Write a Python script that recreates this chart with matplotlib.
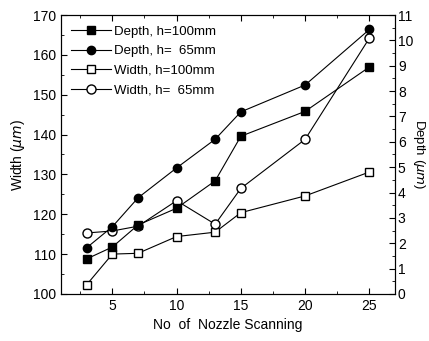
import matplotlib
matplotlib.use('Agg')
import matplotlib.pyplot as plt
from matplotlib.ticker import MultipleLocator

plt.rcParams['font.family'] = ['Liberation Sans', 'DejaVu Sans']

# nozzle scanning counts
nozzle = [3, 5, 7, 10, 13, 15, 20, 25]

# width in um (left axis)
width_100 = [102.3, 110.0, 110.2, 114.4, 115.5, 120.4, 124.6, 130.6]
width_65 = [115.3, 115.8, 117.0, 123.4, 117.5, 126.5, 138.8, 164.2]

# depth in um (right axis)
depth_100 = [1.38, 1.85, 2.72, 3.38, 4.46, 6.22, 7.2, 8.95]
depth_65 = [1.82, 2.65, 3.79, 4.97, 6.1, 7.18, 8.24, 10.43]

fig = plt.figure(figsize=(4.29, 3.41), dpi=100)
ax = fig.add_axes([0.142, 0.138, 0.779, 0.818])
ax2 = ax.twinx()

lw = 0.8
h1, = ax2.plot(nozzle, depth_100, 'k-', marker='s', ms=5.5, lw=lw, label='Depth, h=100mm')
h2, = ax2.plot(nozzle, depth_65, 'k-', marker='o', ms=6, lw=lw, label='Depth, h=  65mm')
h3, = ax.plot(nozzle, width_100, 'k-', marker='s', ms=6, lw=lw, mfc='white', label='Width, h=100mm')
h4, = ax.plot(nozzle, width_65, 'k-', marker='o', ms=6.5, lw=lw, mfc='white', label='Width, h=  65mm')

ax.set_xlim(1, 27)
ax.set_ylim(100, 170)
ax2.set_ylim(0, 11)

ax.xaxis.set_major_locator(MultipleLocator(5))
ax.xaxis.set_minor_locator(MultipleLocator(2.5))
ax.yaxis.set_major_locator(MultipleLocator(10))
ax.yaxis.set_minor_locator(MultipleLocator(5))
ax2.yaxis.set_major_locator(MultipleLocator(1))
ax2.yaxis.set_minor_locator(MultipleLocator(0.5))

ax.tick_params(axis='both', which='both', direction='in', top=True, labelsize=10)
ax.tick_params(which='major', length=4)
ax.tick_params(which='minor', length=2)
ax2.tick_params(axis='y', which='both', direction='in', labelsize=10, pad=2)
ax2.tick_params(which='major', length=4)
ax2.tick_params(which='minor', length=2)

ax.set_xlabel('No  of  Nozzle Scanning', fontsize=10)
ax.set_ylabel('Width ($\\mu m$)', fontsize=10)
ax2.set_ylabel('Depth ($\\mu m$)', fontsize=9.5, rotation=270, ha='center', va='center')
ax2.yaxis.set_label_coords(1.07, 0.5)

ax.legend(handles=[h1, h2, h3, h4], loc='upper left', frameon=False,
          fontsize=9.5, numpoints=1, handlelength=3.0, handletextpad=0.2,
          labelspacing=0.55, borderaxespad=0.4)

fig.savefig('out.png', dpi=100)
